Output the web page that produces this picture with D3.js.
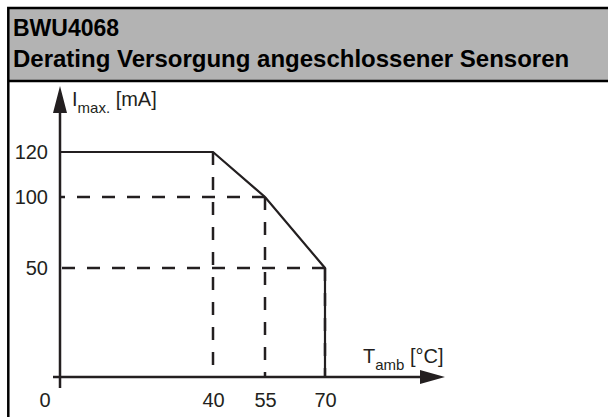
<!DOCTYPE html>
<html>
<head>
<meta charset="utf-8">
<script src="https://cdnjs.cloudflare.com/ajax/libs/d3/7.8.5/d3.min.js"></script>
<style>
    body { margin: 0; background: #fff; }
    svg text { font-family: "Liberation Sans", Arial, sans-serif; fill: #231f20; }
</style>
</head>
<body>
<div id="chart"></div>
<script>
    // values
    const titleLines = ['BWU4068', 'Derating Versorgung angeschlossener Sensoren'];
    const curveTemp = [0, 40, 55, 70, 70];      // T_amb [°C]
    const curveCurrent = [120, 120, 100, 50, 0]; // I_max. [mA]
    const xTicks = [40, 55, 70];
    const yTicks = [50, 100, 120];
    const originLabel = '0';

    const width = 608, height = 417;
    const ink = '#231f20';

    const svg = d3.select('#chart')
        .append('svg')
        .attr('width', width)
        .attr('height', height);

    // header band
    svg.append('rect')
        .attr('x', 8).attr('y', 8)
        .attr('width', width).attr('height', 73)
        .attr('fill', '#b3b3b3');

    svg.append('path')
        .attr('d', `M8.3,${height} V8 H${width} M8,81 H${width}`)
        .attr('fill', 'none')
        .attr('stroke', '#000')
        .attr('stroke-width', 2.5);

    svg.selectAll('.title')
        .data(titleLines)
        .enter()
        .append('text')
        .attr('class', 'title')
        .attr('x', 13)
        .attr('y', (d, i) => 36 + i * 31)
        .style('font-size', (d, i) => i === 0 ? '23px' : '24px')
        .style('font-weight', 'bold')
        .style('fill', '#000')
        .text(d => d);

    // the diagram is schematic, so both scales are piecewise linear
    const x = d3.scaleLinear().domain([0, 40, 55, 70]).range([60, 213, 265, 325]);
    const y = d3.scaleLinear().domain([0, 50, 100, 120]).range([377, 268, 197, 152]);

    // dashed guides from each corner of the curve back to the axes
    const guides = [];
    curveTemp.forEach((t, i) => {
        const c = curveCurrent[i];
        if (i > 0 && i < curveTemp.length - 1) {
            guides.push([[t, c], [t, 0]]);
        }
        if (i > 1 && i < curveTemp.length - 1) {
            guides.push([[t, c], [0, c]]);
        }
    });

    const line = d3.line().x(d => x(d[0])).y(d => y(d[1]));

    svg.selectAll('.guide')
        .data(guides)
        .enter()
        .append('path')
        .attr('class', 'guide')
        .attr('d', line)
        .attr('fill', 'none')
        .attr('stroke', ink)
        .attr('stroke-width', 2.5)
        .attr('stroke-dasharray', '13,12');

    // axes with arrow heads
    svg.append('path')
        .attr('d', `M${x(0)},${y(0) + 11} V113 M${x(0) - 7},${y(0)} H420`)
        .attr('fill', 'none')
        .attr('stroke', ink)
        .attr('stroke-width', 2.5);

    svg.append('path')
        .attr('d', `M${x(0)},86 L${x(0) + 7},113 L${x(0) - 7},113 Z M445,${y(0)} L420,${y(0) - 7} L420,${y(0) + 7} Z`)
        .attr('fill', ink);

    // derating curve
    svg.append('path')
        .datum(d3.zip(curveTemp, curveCurrent))
        .attr('d', line)
        .attr('fill', 'none')
        .attr('stroke', ink)
        .attr('stroke-width', 2.2)
        .attr('stroke-linejoin', 'miter');

    // tick labels
    const yAxis = svg.append('g')
        .attr('transform', `translate(${x(0) - 12},0)`)
        .call(d3.axisLeft(y).tickValues(yTicks).tickSize(0).tickPadding(0));
    const xAxis = svg.append('g')
        .attr('transform', `translate(0,${y(0) + 16})`)
        .call(d3.axisBottom(x).tickValues(xTicks).tickSize(0).tickPadding(0));
    [yAxis, xAxis].forEach(g => {
        g.select('.domain').remove();
        g.selectAll('text')
            .style('font-family', '"Liberation Sans", Arial, sans-serif')
            .style('font-size', '20px')
            .attr('fill', ink);
    });

    svg.append('text')
        .attr('x', x(0) - 15)
        .attr('y', 407)
        .attr('text-anchor', 'middle')
        .style('font-size', '20px')
        .text(originLabel);

    // axis titles
    const yTitle = svg.append('text').attr('x', 72).attr('y', 106).style('font-size', '20px');
    yTitle.append('tspan').text('I');
    yTitle.append('tspan').attr('dy', 7).style('font-size', '15px').text('max.');
    yTitle.append('tspan').attr('dy', -7).text(' [mA]');

    const xTitle = svg.append('text').attr('x', 363).attr('y', 363).style('font-size', '20px');
    xTitle.append('tspan').text('T');
    xTitle.append('tspan').attr('dy', 7).style('font-size', '15px').text('amb');
    xTitle.append('tspan').attr('dy', -7).text(' [°C]');
</script>
</body>
</html>
